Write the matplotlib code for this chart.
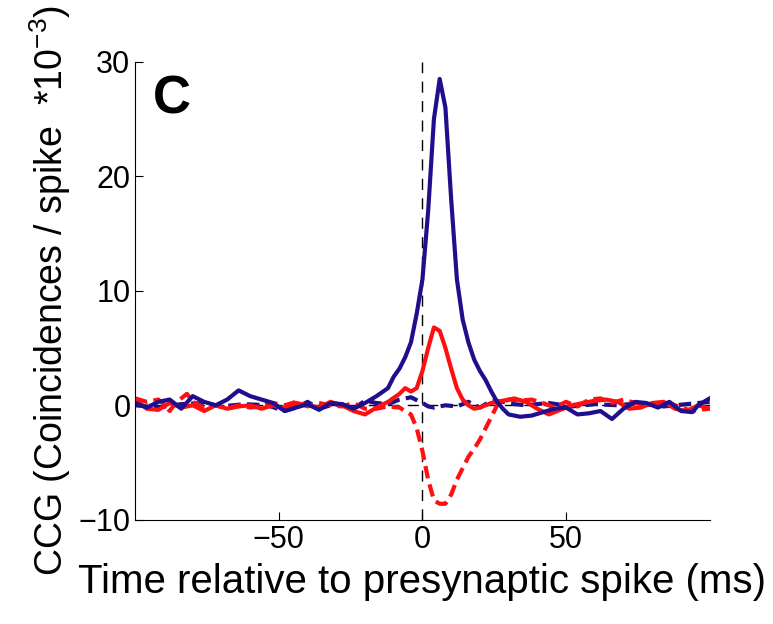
import matplotlib
matplotlib.use("Agg")
import matplotlib.pyplot as plt

plt.rcParams["font.family"] = "Liberation Sans"

bs_x = [-100,-96,-92,-88,-84,-80,-76,-72,-68,-64,-60,-56,-52,-48,-44,-40,-36,-32,-28,-24,-20,-16,-12,-10,-8,-6,-4,-2,0,2,4,6,8,10,12,14,16,18,20,22,24,26,28,30,34,38,42,46,50,54,58,62,66,70,74,78,82,86,90,94,96,100]
bs_y = [0.2,-0.2,0.3,0.5,-0.3,0.8,0.3,0,0.5,1.3,0.8,0.5,0.2,-0.5,-0.2,0.1,-0.4,0.2,0.1,-0.3,0.2,0.8,1.5,2.5,3.2,4.2,5.5,8,11,17,25,28.5,26,18,11,7.5,5.5,4,3,2.2,1.2,0.3,-0.3,-0.8,-1.0,-0.9,-0.6,-0.3,-0.2,-0.8,-0.7,-0.5,-1.2,-0.3,0.3,0.2,-0.2,0.3,-0.5,-0.6,0,0.6]

rs_x = [-100,-96,-92,-88,-84,-80,-76,-72,-68,-64,-60,-56,-52,-48,-44,-40,-36,-32,-28,-24,-20,-16,-12,-8,-6,-4,-2,0,2,4,6,8,10,12,14,16,18,20,24,28,32,36,40,44,48,52,56,60,64,68,72,76,80,84,88,92,96,100]
rs_y = [0.5,-0.3,-0.4,0.2,-0.2,0,-0.5,0,-0.3,-0.1,0,-0.3,0,-0.3,0.2,0,-0.2,0.3,0,-0.5,-0.8,-0.2,0.3,1.0,1.5,1.2,1.5,3.0,5,6.8,6.5,5,3.2,1.5,0.5,0,-0.3,-0.2,0.2,0.4,0.6,0.3,-0.3,-0.8,-0.4,0,0.2,0.4,0.5,0.3,-0.3,-0.2,0.2,0.3,-0.3,-0.5,0,-0.3]

rd_x = [-100,-96,-92,-90,-88,-86,-84,-82,-80,-76,-72,-68,-64,-60,-56,-52,-48,-44,-40,-36,-32,-28,-24,-20,-16,-12,-8,-4,-2,0,2,4,6,8,10,12,14,16,18,20,22,24,26,30,34,38,42,46,50,54,58,62,66,70,74,78,82,86,90,94,96,100]
rd_y = [0.6,0.3,0.5,0.1,-0.5,0.2,0.6,1.0,0.3,-0.2,0,-0.3,0,-0.2,-0.1,0.2,0,0.3,-0.1,0.2,0,-0.1,0.2,-0.3,-0.3,-0.1,-0.2,-0.8,-2,-4,-6.5,-8.3,-8.6,-8.6,-7.8,-6.5,-5.5,-4.5,-3.8,-3,-2,-1,0,0.5,0.4,0.5,0.2,-0.2,0.3,-0.1,0.5,0.6,0.2,0.5,0.2,0,0.2,0.2,-0.2,-0.5,-0.4,-0.3]

bd_x = [-100,-92,-84,-76,-70,-62,-54,-48,-44,-40,-36,-32,-28,-24,-20,-16,-12,-8,-4,0,2,4,6,8,12,16,20,24,28,32,36,44,52,60,68,76,84,92,100]
bd_y = [0,-0.2,0.1,0.2,-0.1,0.1,0,-0.5,-0.2,0.3,-0.3,0,0.1,-0.3,0.4,0.2,0.1,0.5,0.7,0.2,-0.1,-0.2,-0.1,0,-0.1,0.3,-0.2,0.4,0.3,0.1,0,0.2,-0.1,0.1,0,0.2,-0.1,0.1,0.3]

x_ticks = [-50, 0, 50]
y_ticks = [-10, 0, 10, 20, 30]

blue = "#1f0f8c"
red = "#ff1010"

fig = plt.figure(figsize=(7.73, 6.24), dpi=100)
ax = fig.add_axes([0.175, 0.167, 0.743, 0.734])
ax.axhline(0, color="black", lw=1, ls=(0, (8, 6)), zorder=1)
ax.axvline(0, color="black", lw=1, ls=(0, (8, 6)), zorder=1)
ax.plot(bd_x, bd_y, color=blue, lw=3, ls=(0, (3, 1.5)))
ax.plot(rd_x, rd_y, color=red, lw=3, ls=(0, (3, 1.5)))
ax.plot(rs_x, rs_y, color=red, lw=3)
ax.plot(bs_x, bs_y, color=blue, lw=3)
ax.set_xlim(-100, 100)
ax.set_ylim(-10, 30)
ax.set_xticks(x_ticks)
ax.set_yticks(y_ticks)
ax.set_xticklabels(["\u221250", "0", "50"])
ax.set_yticklabels(["\u221210", "0", "10", "20", "30"])
ax.tick_params(direction="in", labelsize=22, length=6)
ax.spines["top"].set_visible(False)
ax.spines["right"].set_visible(False)
ax.set_xlabel("Time relative to presynaptic spike (ms)", fontsize=29, labelpad=6)
ax.set_ylabel("CCG (Coincidences / spike  *10$^{\\mathregular{-3}}$)", fontsize=27, labelpad=4)
ax.text(-94, 25.5, "C", fontsize=38, fontweight="bold")
fig.savefig("out.png", dpi=100)
